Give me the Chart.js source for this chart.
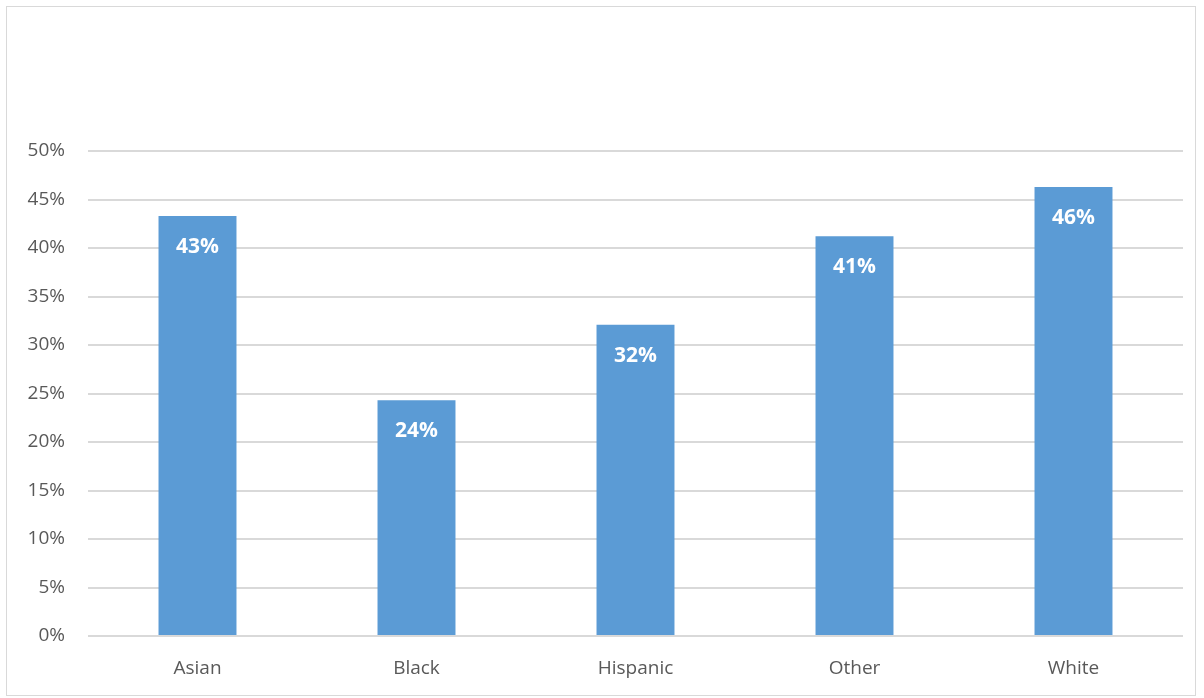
<!DOCTYPE html>
<html lang="en">
<head>
  <meta charset="UTF-8" />
  <title>Share by group</title>
  <script src="https://cdn.jsdelivr.net/npm/chart.js"></script>
  <style>
    * { box-sizing: border-box; margin: 0; padding: 0; }
    body { background: #ffffff; width: 1204px; height: 698px; overflow: hidden; }
    .frame {
      position: absolute;
      left: 6px; top: 6px;
      width: 1190px; height: 690px;
      border: 1px solid #d9d9d9;
    }
    canvas { display: block; }
  </style>
</head>
<body>
  <div class="frame">
    <canvas id="barChart" width="1188" height="688"></canvas>
  </div>

  <script>
    const categories = ['Asian', 'Black', 'Hispanic', 'Other', 'White'];
    const shares = [43.3, 24.3, 32.1, 41.2, 46.3];
    const labels = ['43%', '24%', '32%', '41%', '46%'];

    const textColor = '#595959';
    const gridColor = '#d9d9d9';
    const barColor = '#5b9bd5';

    // white bold value inside the top of each bar
    const insideLabels = {
      id: 'insideLabels',
      afterDatasetsDraw(chart) {
        const ctx = chart.ctx;
        const meta = chart.getDatasetMeta(0);
        ctx.save();
        ctx.fillStyle = '#ffffff';
        ctx.font = 'bold 21px "Open Sans", sans-serif';
        ctx.textAlign = 'center';
        ctx.textBaseline = 'middle';
        meta.data.forEach((bar, i) => {
          ctx.fillText(labels[i], bar.x, bar.y + 31);
        });
        ctx.restore();
      }
    };

    const barChart = new Chart(document.getElementById('barChart').getContext('2d'), {
      type: 'bar',
      data: {
        labels: categories,
        datasets: [{
          data: shares,
          backgroundColor: barColor,
          borderWidth: 0,
          categoryPercentage: 1,
          barPercentage: 0.356
        }]
      },
      options: {
        responsive: false,
        animation: false,
        layout: { padding: { top: 144, right: 12, left: 0, bottom: 0 } },
        plugins: {
          legend: { display: false },
          tooltip: { enabled: false }
        },
        scales: {
          x: {
            grid: { display: false, drawTicks: false },
            border: { display: false },
            ticks: {
              color: textColor,
              font: { family: 'Open Sans', size: 19 },
              padding: 21
            },
            afterFit(scale) { scale.height = 59; }
          },
          y: {
            min: 0,
            max: 50,
            grid: { color: gridColor, lineWidth: 2, drawTicks: false },
            border: { display: false },
            ticks: {
              stepSize: 5,
              color: textColor,
              font: { family: 'Open Sans', size: 19 },
              padding: 23,
              callback: v => v + '%'
            },
            afterFit(scale) { scale.width = 81; }
          }
        }
      },
      plugins: [insideLabels]
    });
  </script>
</body>
</html>
